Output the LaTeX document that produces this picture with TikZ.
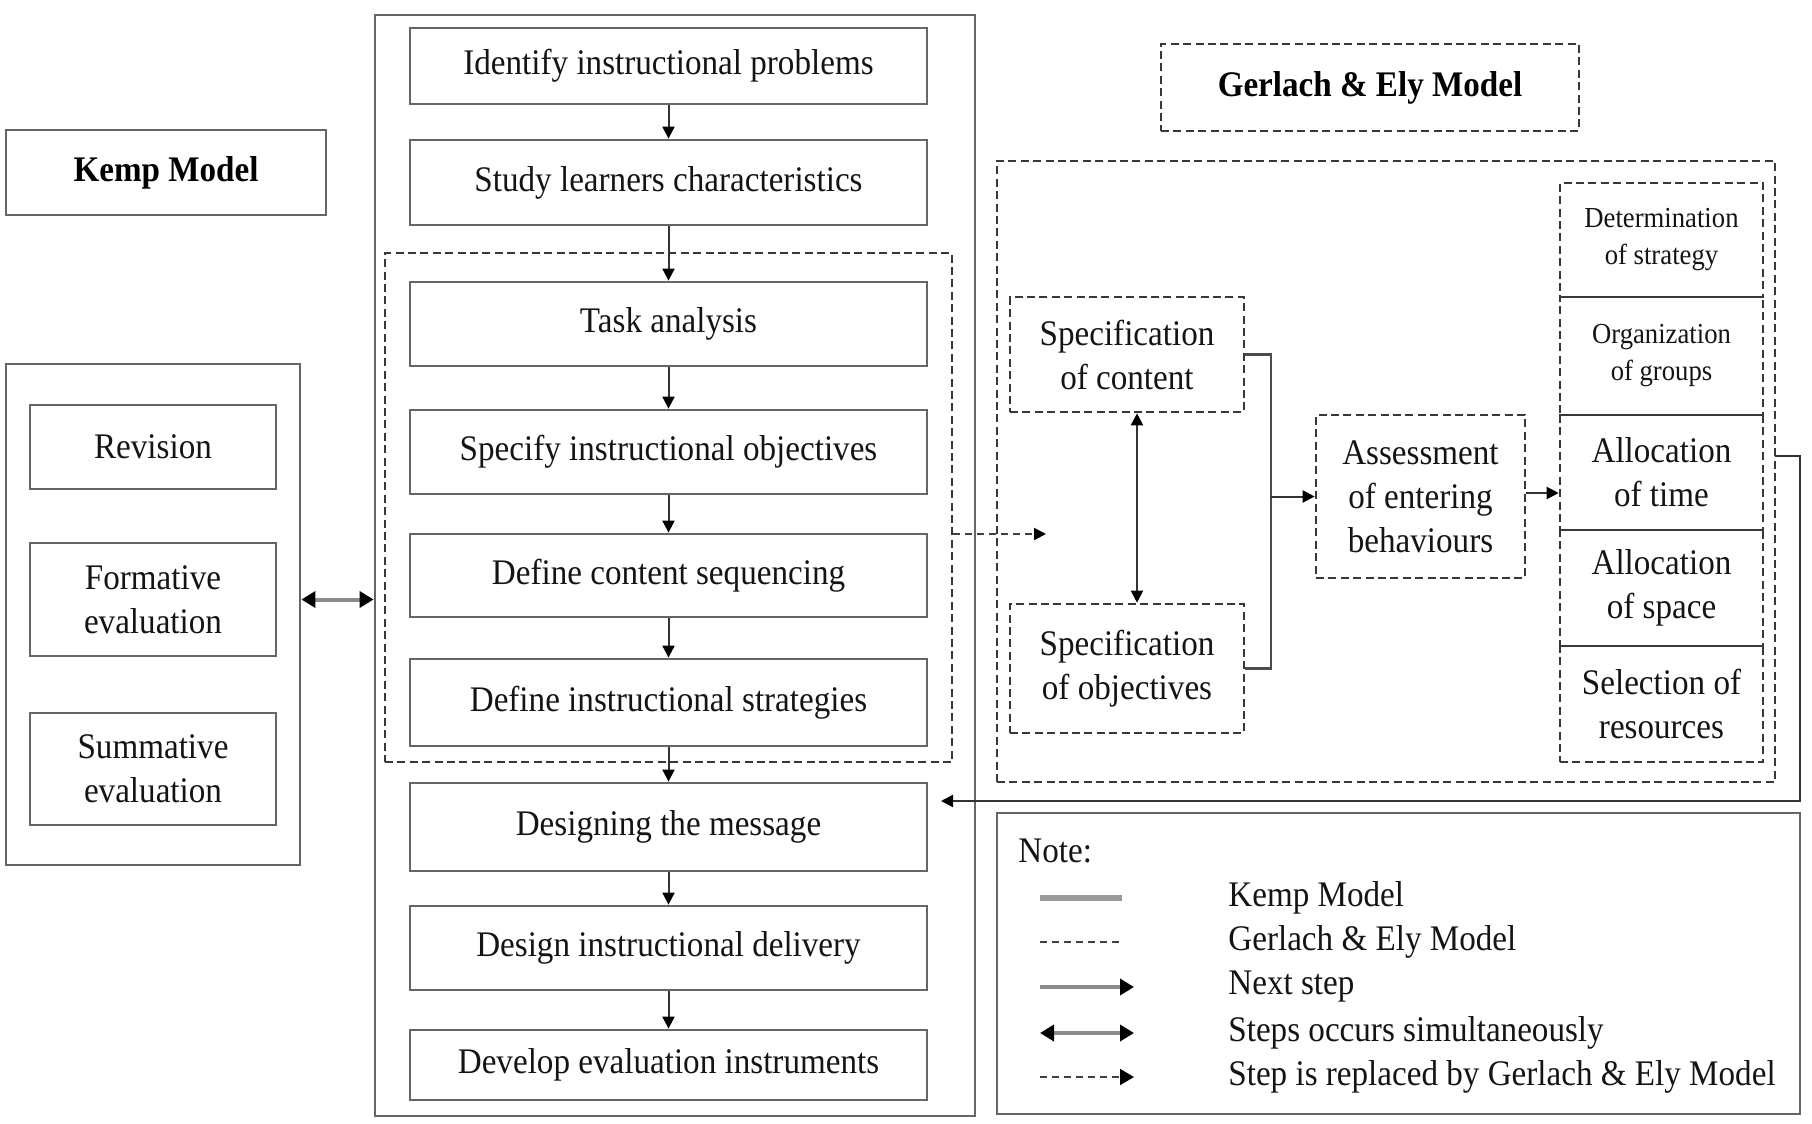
\documentclass[tikz,border=0pt]{standalone}
\usepackage{fontspec}
\setmainfont[FakeStretch=0.92]{Liberation Serif}
\usetikzlibrary{arrows.meta}
\begin{document}
\begin{tikzpicture}[x=0.5pt,y=-0.5pt,
  txt/.style={text=black!92, font=\fontsize{18pt}{22pt}\selectfont, inner sep=0pt},
  kbox/.style={txt, draw=black!60, line width=1.4pt, rectangle, align=center},
  gbox/.style={txt, draw=black!78, line width=1.3pt, dash pattern=on 4pt off 2.2pt, rectangle, align=center},
  small/.style={font=\fontsize{14.5pt}{18.5pt}\selectfont},
  arr/.style={draw=black!80, line width=1pt, -{Triangle[length=6pt,width=6pt,fill=black,color=black]}},
  darr/.style={draw=black!80, line width=1pt, {Triangle[length=6pt,width=6pt,fill=black,color=black]}-{Triangle[length=6pt,width=6pt,fill=black,color=black]}},
  garr/.style={draw=black!45, line width=2pt, -{Triangle[length=7pt,width=8pt,fill=black,color=black]}},
  gdarr/.style={draw=black!45, line width=2pt, {Triangle[length=7pt,width=8pt,fill=black,color=black]}-{Triangle[length=7pt,width=8pt,fill=black,color=black]}},
  dline/.style={draw=black!75, line width=1pt, dash pattern=on 3.5pt off 2.5pt},
  conn/.style={draw=black!70, line width=1.1pt}
]
\useasboundingbox (0,0) rectangle (1812,1124);

% Kemp model main column
\node[kbox, minimum width=300pt, minimum height=550.5pt] (main) at (675,565.5) {};
\node[gbox, minimum width=283.5pt, minimum height=254.5pt] (inner) at (668.5,507.5) {};
\node[kbox, minimum width=258.5pt, minimum height=38pt] (n1) at (668.5,66) {Identify instructional problems};
\node[kbox, minimum width=258.5pt, minimum height=42.5pt] (n2) at (668.5,182.5) {Study learners characteristics};
\node[kbox, minimum width=258.5pt, minimum height=42pt] (n3) at (668.5,324) {Task analysis};
\node[kbox, minimum width=258.5pt, minimum height=42pt] (n4) at (668.5,452) {Specify instructional objectives};
\node[kbox, minimum width=258.5pt, minimum height=41.5pt] (n5) at (668.5,575.5) {Define content sequencing};
\node[kbox, minimum width=258.5pt, minimum height=43.5pt] (n6) at (668.5,702.5) {Define instructional strategies};
\node[kbox, minimum width=258.5pt, minimum height=44pt] (n7) at (668.5,827) {Designing the message};
\node[kbox, minimum width=258.5pt, minimum height=42pt] (n8) at (668.5,948) {Design instructional delivery};
\node[kbox, minimum width=258.5pt, minimum height=35pt] (n9) at (668.5,1065) {Develop evaluation instruments};
\draw[arr] (n1) -- (n2);
\draw[arr] (n2) -- (n3);
\draw[arr] (n3) -- (n4);
\draw[arr] (n4) -- (n5);
\draw[arr] (n5) -- (n6);
\draw[arr] (n6) -- (n7);
\draw[arr] (n7) -- (n8);
\draw[arr] (n8) -- (n9);

% Kemp title and evaluation group
\node[kbox, minimum width=160pt, minimum height=42.5pt, font=\fontsize{18pt}{22pt}\selectfont\bfseries, text=black] (ktitle) at (166,172.5) {Kemp Model};
\node[kbox, minimum width=147pt, minimum height=250.5pt] (lgroup) at (153,614.5) {};
\node[kbox, minimum width=123pt, minimum height=42pt] (rev) at (153,447) {Revision};
\node[kbox, minimum width=123pt, minimum height=56.5pt] (form) at (153,599.5) {Formative\\evaluation};
\node[kbox, minimum width=123pt, minimum height=56pt] (summ) at (153,769) {Summative\\evaluation};
\draw[gdarr] (lgroup.east |- form.east) -- (main.west |- form.east);

% Gerlach & Ely model
\node[gbox, minimum width=209pt, minimum height=43.5pt, font=\fontsize{18pt}{22pt}\selectfont\bfseries, text=black] (gtitle) at (1370,87.5) {Gerlach \& Ely Model};
\node[gbox, minimum width=389pt, minimum height=310.5pt] (gbig) at (1386,471.5) {};
\node[gbox, minimum width=117pt, minimum height=57.5pt] (sc) at (1127,354.5) {Specification\\of content};
\node[gbox, minimum width=117pt, minimum height=64.5pt] (so) at (1127,668.5) {Specification\\of objectives};
\node[gbox, minimum width=104.5pt, minimum height=81.5pt] (as) at (1420.5,496.5) {Assessment\\of entering\\behaviours};
\node[gbox, small, minimum width=101.5pt, minimum height=57pt] (d1) at (1661.5,240) {Determination\\of strategy};
\node[gbox, small, minimum width=101.5pt, minimum height=59pt] (d2) at (1661.5,356) {Organization\\of groups};
\node[gbox, minimum width=101.5pt, minimum height=57.5pt] (d3) at (1661.5,472.5) {Allocation\\of time};
\node[gbox, minimum width=101.5pt, minimum height=58pt] (d4) at (1661.5,588) {Allocation\\of space};
\node[gbox, minimum width=101.5pt, minimum height=58pt] (d5) at (1661.5,704) {Selection of\\resources};

\draw[darr] ([xshift=5pt]sc.south) -- ([xshift=5pt]so.north);
\draw[conn] (sc.east) -- ++(26,0) coordinate (bt) |- (so.east);
\draw[arr] (bt |- as.west) -- (as.west);
\draw[arr] ([yshift=1.75pt]as.east) -- ([yshift=1.75pt]as.east -| d3.west);

% replaced-by arrow
\coordinate (rpl) at (1046,534);
\draw[dline, -{Triangle[length=6pt,width=6pt,fill=black,color=black]}] (inner.east |- rpl) -- (rpl);

% feedback arrow
\coordinate (fbs) at (1775,456);
\coordinate (fbe) at (941,801);
\draw[arr] (fbs) -- (1800,456) |- (fbe);

% Note / legend
\node[kbox, minimum width=401.5pt, minimum height=150.5pt] (note) at (1398.5,963.5) {};
\node[txt, anchor=west] (nt) at (1018,851) {Note:};
\coordinate (l1a) at (1040,898); \coordinate (l1b) at (1122,898);
\coordinate (l2a) at (1040,942); \coordinate (l2b) at (1122,942);
\coordinate (l3a) at (1040,987); \coordinate (l3b) at (1134,987);
\coordinate (l4a) at (1040,1033); \coordinate (l4b) at (1134,1033);
\coordinate (l5a) at (1040,1077); \coordinate (l5b) at (1134,1077);
\draw[draw=black!40, line width=2.6pt] (l1a) -- (l1b);
\draw[dline, line width=0.8pt] (l2a) -- (l2b);
\draw[garr] (l3a) -- (l3b);
\draw[gdarr] (l4a) -- (l4b);
\draw[dline, line width=0.9pt, -{Triangle[length=7pt,width=8pt,fill=black,color=black]}] (l5a) -- (l5b);
\node[txt, anchor=west] (t1) at (1228,898) {Kemp Model};
\node[txt, anchor=west] (t2) at (1228,942) {Gerlach \& Ely Model};
\node[txt, anchor=west] (t3) at (1228,987) {Next step};
\node[txt, anchor=west] (t4) at (1228,1033) {Steps occurs simultaneously};
\node[txt, anchor=west] (t5) at (1228,1077) {Step is replaced by Gerlach \& Ely Model};
\end{tikzpicture}
\end{document}
